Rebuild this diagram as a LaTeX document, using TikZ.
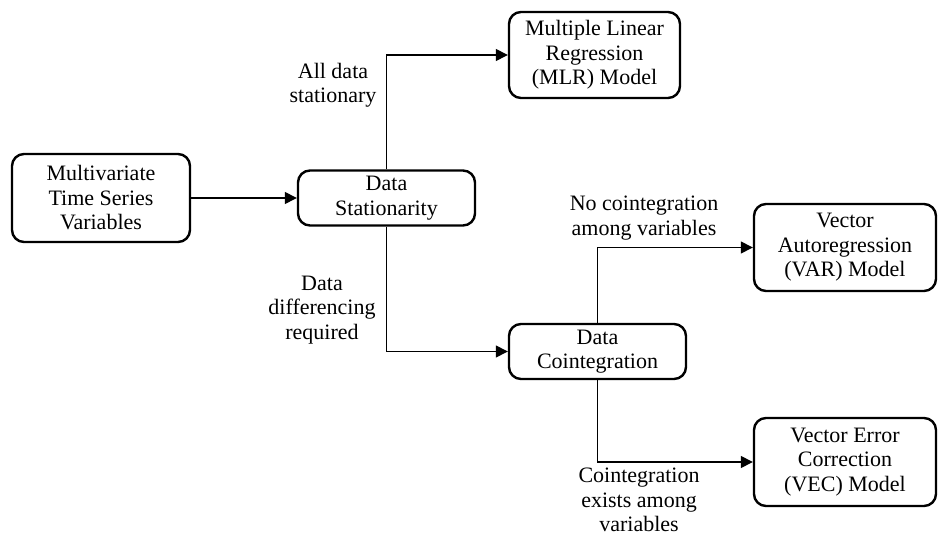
\documentclass[tikz,border=0pt]{standalone}
\usepackage{fontspec}
\setmainfont{Liberation Serif}
\usetikzlibrary{arrows.meta}
\begin{document}
\begin{tikzpicture}[x=1pt,y=-1pt,
  box/.style={draw, line width=2.4pt, rounded corners=12pt, align=center, inner sep=0pt,
    font=\fontsize{22}{24.5}\selectfont},
  lbl/.style={align=center, inner sep=0pt, font=\fontsize{22}{24.5}\selectfont},
  conn/.style={line width=1.4pt, -{Triangle[length=12pt,width=12pt]}}]
\useasboundingbox (0,0) rectangle (939,534);
\node[box, minimum width=178pt, minimum height=88pt] (mts) at (101,198) {Multivariate\\Time Series\\Variables};
\node[box, minimum width=177pt, minimum height=55pt] (stat) at (386.5,198) {Data\\Stationarity};
\node[box, minimum width=171pt, minimum height=86pt] (mlr) at (594.5,55) {Multiple Linear\\Regression\\(MLR) Model};
\node[box, minimum width=177pt, minimum height=55pt] (coint) at (597.5,351.5) {Data\\Cointegration};
\node[box, minimum width=182pt, minimum height=87pt] (var) at (845,247.5) {Vector\\Autoregression\\(VAR) Model};
\node[box, minimum width=182pt, minimum height=88pt] (vec) at (845,462) {Vector Error\\Correction\\(VEC) Model};
\draw[conn] (mts.east) -- (stat.west);
\draw[conn] (stat.north) |- (mlr.west);
\draw[conn] (stat.south) |- (coint.west);
\draw[conn] (coint.north) |- (var.west);
\draw[conn] (coint.south) |- (vec.west);
\node[lbl] (l1) at (333,85) {All data\\stationary};
\node[lbl] (l2) at (322,310) {Data\\differencing\\required};
\node[lbl] (l3) at (644,218) {No cointegration\\among variables};
\node[lbl] (l4) at (639,500) {Cointegration\\exists among\\variables};
\end{tikzpicture}
\end{document}
